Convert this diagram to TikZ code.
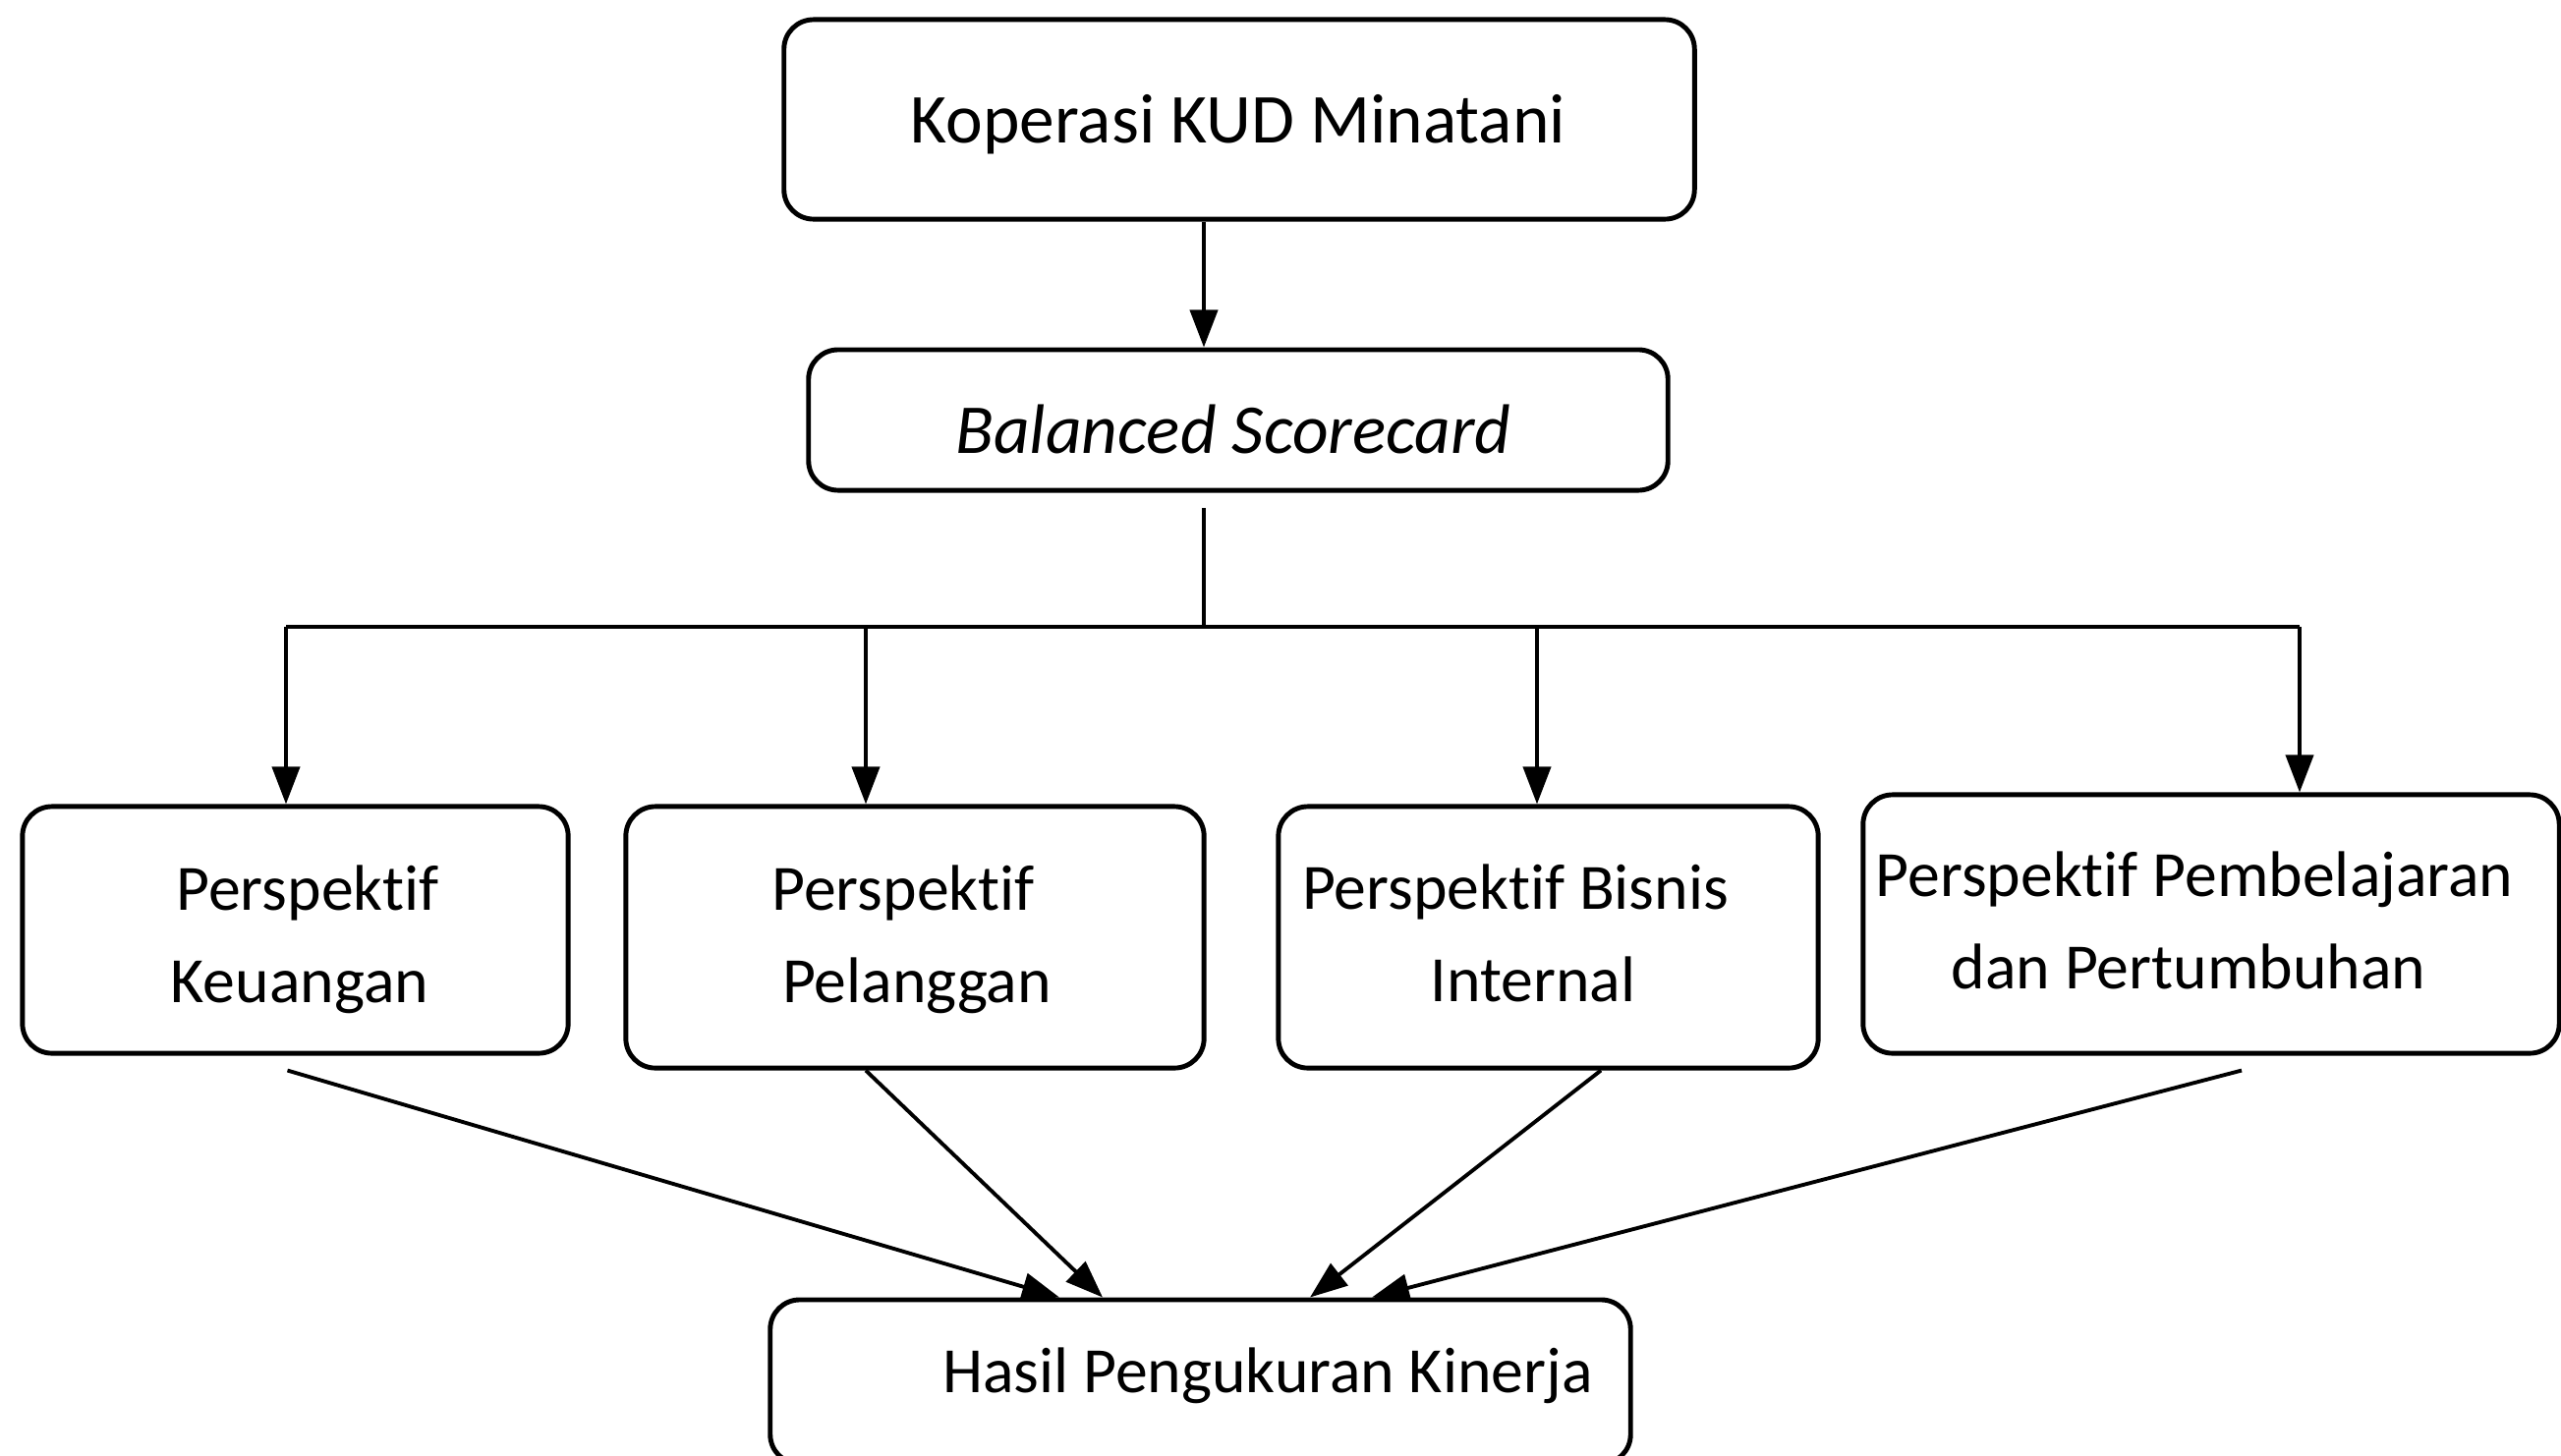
\documentclass[tikz,border=0pt]{standalone}
\usepackage{fontspec}
\setmainfont[Ligatures={CommonOff,RareOff},RawFeature={-calt;-clig;-ccmp}]{Carlito}
\usetikzlibrary{arrows.meta,calc}
\begin{document}
\begin{tikzpicture}[x=0.01cm,y=-0.01cm,
  box/.style={draw,line width=1.4pt,rounded corners=0.3cm,inner sep=0pt},
  lbl/.style={anchor=base,inner sep=0pt,font=\fontsize{18.7}{22}\selectfont},
  biglbl/.style={anchor=base,inner sep=0pt,font=\fontsize{20.3}{24}\selectfont},
  conn/.style={line width=1.1pt},
  arr/.style={conn,-{Triangle[length=0.38cm,width=0.28cm]}}]
\useasboundingbox (0,0) rectangle (2606,1481);
\fill[white] (0,0) rectangle (2606,1481);
% boxes
\node[box,minimum width=9.26cm,minimum height=2.03cm] (k) at (1261,121.5) {};
\node[box,minimum width=8.74cm,minimum height=1.43cm] (b) at (1260,427.5) {};
\node[box,minimum width=5.55cm,minimum height=2.51cm] (p1) at (300.5,946.5) {};
\node[box,minimum width=5.88cm,minimum height=2.66cm] (p2) at (931,954) {};
\node[box,minimum width=5.49cm,minimum height=2.66cm] (p3) at (1575.5,954) {};
\node[box,minimum width=7.08cm,minimum height=2.63cm] (p4) at (2250,940.5) {};
\node[box,minimum width=8.75cm,minimum height=1.67cm] (h) at (1221.5,1406.5) {};
% texts
\node[biglbl] (tk) at (1260,145) {Koperasi KUD Minatani};
\node[biglbl] (tb) at (1255,461) {\itshape Balanced Scorecard};
\node[lbl] (t1a) at (313,926) {Perspektif};
\node[lbl] (t1b) at (305,1020) {Keuangan};
\node[lbl] (t2a) at (919,926) {Perspektif};
\node[lbl] (t2b) at (933,1020) {Pelanggan};
\node[lbl] (t3a) at (1542,925) {Perspektif Bisnis};
\node[lbl] (t3b) at (1560,1019) {Internal};
\node[lbl] (t4a) at (2233,912) {Perspektif Pembelajaran};
\node[lbl] (t4b) at (2227,1006) {dan Pertumbuhan};
\node[lbl] (th) at (1290,1417) {Hasil Pengukuran Kinerja};
% connectors
\coordinate (stem) at (1225,517);
\coordinate (bus) at (1225,638);
\coordinate (d1) at (291,638);
\coordinate (d2) at (881,638);
\coordinate (d3) at (1564,638);
\coordinate (d4) at (2340,638);
\draw[arr] (k.south -| stem) -- (b.north -| stem);
\draw[conn] (stem) -- (bus);
\draw[conn] (d1) -- (d4);
\draw[arr] (d1) -- (d1 |- p1.north);
\draw[arr] (d2) -- (d2 |- p2.north);
\draw[arr] (d3) -- (d3 |- p3.north);
\draw[arr] (d4) -- (d4 |- p4.north);
\draw[arr] ($(p1.south)+(-8,15)$) -- ($(h.north)+(-143.5,0)$);
\draw[arr] ($(p2.south)+(-50,0)$) -- ($(h.north)+(-99.5,0)$);
\draw[arr] ($(p3.south)+(53.5,0)$) -- ($(h.north)+(111.5,0)$);
\draw[arr] ($(p4.south)+(31,15)$) -- ($(h.north)+(174.5,0)$);
\end{tikzpicture}
\end{document}
